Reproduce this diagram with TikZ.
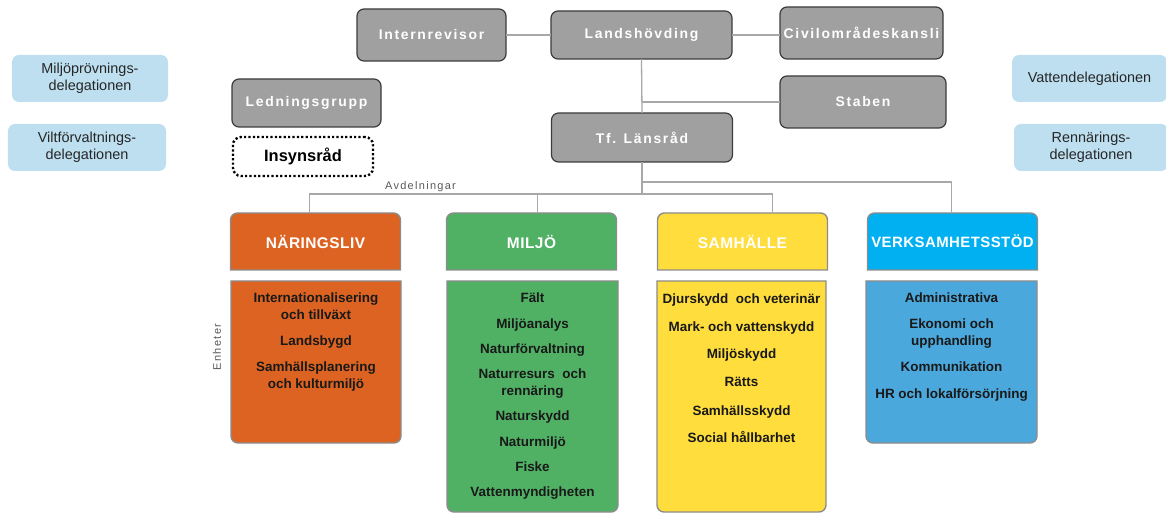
\documentclass[tikz,border=0pt]{standalone}
\usepackage{fontspec}
\setmainfont{Liberation Sans}
\newfontfamily\spacedfont{Liberation Sans}[LetterSpace=12]
\newfontfamily\headfont{Liberation Sans}[LetterSpace=3]
\usepackage{xcolor}
\usetikzlibrary{positioning, backgrounds}

\definecolor{boxgray}{HTML}{A0A0A0}
\definecolor{boxedge}{HTML}{3C3C3C}
\definecolor{linegray}{HTML}{A8A8A8}
\definecolor{delblue}{HTML}{BDDFF0}
\definecolor{naringorange}{HTML}{DC6321}
\definecolor{miljogreen}{HTML}{50B165}
\definecolor{samhyellow}{HTML}{FFDD3D}
\definecolor{verkcyan}{HTML}{00B0F0}
\definecolor{verkblue}{HTML}{4BA8DC}
\definecolor{deptedge}{HTML}{8C8C8C}
\definecolor{labelgray}{HTML}{595959}

\begin{document}
\begin{tikzpicture}[x=1bp, y=-1bp,
            lead/.style={rectangle, rounded corners=7bp, draw=boxedge, line width=1.2bp, fill=boxgray, text=white, inner sep=0pt, outer sep=0pt, font=\spacedfont\bfseries\fontsize{14}{16}\selectfont},
            deleg/.style={rectangle, rounded corners=7bp, fill=delblue, text=black!85, align=center, inner sep=0pt, font=\fontsize{14.5}{17}\selectfont},
            depthead/.style={rectangle, inner sep=0pt, outer sep=0pt, minimum width=170bp, minimum height=57bp, text=white, font=\headfont\bfseries\fontsize{15.5}{18}\selectfont},
            deptunit/.style={rectangle, inner sep=0pt, outer sep=0pt},
            unitlist/.style={align=center, inner sep=0pt, text=black!90, font=\bfseries\fontsize{13.5}{17}\selectfont},
            deptshape/.style={draw=deptedge, line width=1.4bp},
            link/.style={draw=linegray, line width=1.3bp},
            sidelabel/.style={text=labelgray, inner sep=0pt, font=\spacedfont\fontsize{11}{13}\selectfont}
        ]
\useasboundingbox (0,0) rectangle (1166,513);

% Management
            \node[lead, minimum width=149bp, minimum height=52bp] (intern) at (431.5,35) {Internrevisor};
            \node[lead, minimum width=181bp, minimum height=48bp] (lands) at (641.5,35) {Landshövding};
            \node[lead, minimum width=163bp, minimum height=52bp] (civil) at (861.5,33) {Civilområdeskansli};
            \node[lead, minimum width=166bp, minimum height=52bp] (staben) at (863,102) {Staben};
            \node[lead, minimum width=181bp, minimum height=49bp] (lansrad) at (642,137.5) {Tf. Länsråd};
            \node[lead, minimum width=149bp, minimum height=48bp] (ledgrupp) at (306.5,103) {Ledningsgrupp};
            \node[rectangle, rounded corners=8bp, draw=black, line width=2.4bp, dash pattern=on 2.2bp off 2.2bp, minimum width=140bp, minimum height=39bp, inner sep=0pt, font=\bfseries\fontsize{16.5}{18}\selectfont] (insyn) at (303,156.5) {Insynsråd};

% Delegations
            \node[deleg, minimum width=156bp, minimum height=47bp] (miljoprov) at (90,78.5) {Miljöprövnings-\\delegationen};
            \node[deleg, minimum width=158bp, minimum height=47bp] (viltforv) at (87,147.5) {Viltförvaltnings-\\delegationen};
            \node[deleg, minimum width=155bp, minimum height=47bp] (vatten) at (1089.5,78.5) {Vattendelegationen};
            \node[deleg, minimum width=154bp, minimum height=47bp] (rennaring) at (1091,147.5) {Rennärings-\\delegationen};

% Departments
            \node[depthead] (hdnaring) at (315.5,241.5) {NÄRINGSLIV};
            \node[depthead] (hdmiljo) at (531.5,241.5) {MILJÖ};
            \node[depthead] (hdsamh) at (742.5,241.5) {SAMHÄLLE};
            \node[depthead, font=\headfont\bfseries\fontsize{15}{18}\selectfont] (hdverk) at (952.5,241.5) {VERKSAMHETSSTÖD};

% Units
            \node[deptunit, minimum width=170bp, minimum height=162bp] (unnaring) at (316,362) {};
            \node[deptunit, minimum width=171bp, minimum height=231bp] (unmiljo) at (532.5,396.5) {};
            \node[deptunit, minimum width=169bp, minimum height=231bp] (unsamh) at (741.5,396.5) {};
            \node[deptunit, minimum width=171bp, minimum height=162bp] (unverk) at (951.5,362) {};

            \node[unitlist, anchor=north] (lsnaring) at ([yshift=-12bp]unnaring.north) {Internationalisering\\och tillväxt\\[9bp]Landsbygd\\[9bp]Samhällsplanering\\och kulturmiljö};
            \node[unitlist, anchor=north] (lsmiljo) at ([yshift=-12bp]unmiljo.north) {Fält\\[9bp]Miljöanalys\\[8bp]Naturförvaltning\\[8bp]Naturresurs\ \ och\\rennäring\\[8bp]Naturskydd\\[9bp]Naturmiljö\\[8bp]Fiske\\[8bp]Vattenmyndigheten};
            \node[unitlist, anchor=north] (lssamh) at ([yshift=-13bp]unsamh.north) {Djurskydd\ \ och veterinär\\[11bp]Mark- och vattenskydd\\[10bp]Miljöskydd\\[11bp]Rätts\\[12bp]Samhällsskydd\\[10bp]Social hållbarhet};
            \node[unitlist, anchor=north] (lsverk) at ([yshift=-12bp]unverk.north) {Administrativa\\[9bp]Ekonomi och\\upphandling\\[9bp]Kommunikation\\[10bp]HR och lokalförsörjning};

% Labels
            \node[sidelabel] (avdlabel) at (420.5,187) {Avdelningar};
            \node[sidelabel, rotate=90] (enhlabel) at (217,347) {Enheter};

% Box shapes
            \begin{scope}[on background layer]
            \foreach \d/\c/\u in {naring/naringorange/naringorange, miljo/miljogreen/miljogreen, samh/samhyellow/samhyellow, verk/verkcyan/verkblue} {
                \draw[deptshape, fill=\c] (hd\d.south west) [rounded corners=7bp] -- (hd\d.north west) -- (hd\d.north east) [sharp corners] -- (hd\d.south east) -- cycle;
                \draw[deptshape, fill=\u] (un\d.north east) [rounded corners=7bp] -- (un\d.south east) -- (un\d.south west) [sharp corners] -- (un\d.north west) -- cycle;
            }
            \end{scope}

% Connectors
            \coordinate[below=20bp of lansrad.south] (highbus);
            \coordinate[below=32bp of lansrad.south] (lowbus);
            \draw[link] (intern.east) -- (intern.east -| lands.west);
            \draw[link] (lands.east) -- (lands.east -| civil.west);
            \draw[link] (lands.south) -- (lansrad.north);
            \draw[link] (lands.south |- staben.west) -- (staben.west);
            \draw[link] (lansrad.south) -- (lowbus);
            \draw[link] (highbus) -| ([xshift=-1bp]hdverk.north);
            \draw[link] ([xshift=-6bp]hdnaring.north) |- ([xshift=30bp]hdsamh.north |- lowbus) -- ([xshift=30bp]hdsamh.north);
            \draw[link] ([xshift=6bp]hdmiljo.north) -- ([xshift=6bp]hdmiljo.north |- lowbus);

        \end{tikzpicture}
\end{document}
